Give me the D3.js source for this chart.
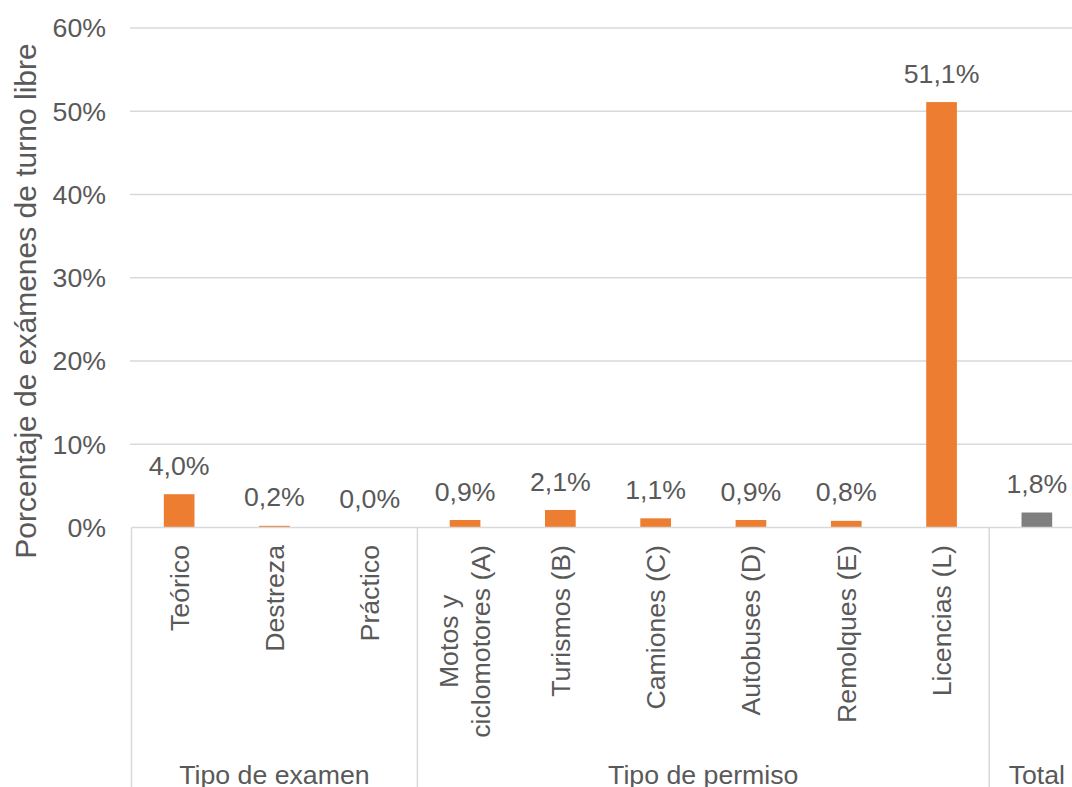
<!DOCTYPE html>
<html>
<head>
<meta charset="utf-8">
<script src="https://cdn.jsdelivr.net/npm/d3@7/dist/d3.min.js"></script>
<style>
  html, body { margin: 0; padding: 0; background: #fff; }
  svg { display: block; font-family: "Liberation Sans", Arial, sans-serif; }
</style>
</head>
<body>
<svg id="chart" width="1072" height="787"></svg>
<script>
// Categories (a "\n" marks a wrapped label line)
const categories = [
  "Teórico", "Destreza", "Práctico",
  "Motos y\nciclomotores (A)", "Turismos (B)", "Camiones (C)",
  "Autobuses (D)", "Remolques (E)", "Licencias (L)",
  "Total"
];
// Share of free-turn exams, in percent
const values = [4.0, 0.2, 0.0, 0.9, 2.1, 1.1, 0.9, 0.8, 51.1, 1.8];
const valueLabels = ["4,0%", "0,2%", "0,0%", "0,9%", "2,1%", "1,1%", "0,9%", "0,8%", "51,1%", "1,8%"];
// Outer grouping of the category axis
const groupNames = ["Tipo de examen", "Tipo de permiso", "Total"];
const groupSizes = [3, 6, 1];
// Y axis ticks
const yTicks = [0, 10, 20, 30, 40, 50, 60];
const yTickLabels = ["0%", "10%", "20%", "30%", "40%", "50%", "60%"];
const yTitle = "Porcentaje de exámenes de turno libre";

const W = 1072, H = 787;
const plotLeft = 131.5, plotRight = 1084.5, plotTop = 28, plotBottom = 527.5;
const textColor = "#595959";
const gridColor = "#d9d9d9";
const fs = 26.7;

const svg = d3.select("#chart");

const x = d3.scaleBand().domain(d3.range(categories.length)).range([plotLeft, plotRight]).padding(0);
const y = d3.scaleLinear().domain([0, 60]).range([plotBottom, plotTop]);
const barW = x.step() * 0.322;

// Horizontal gridlines
svg.append("g").selectAll("line").data(yTicks.filter(t => t > 0)).join("line")
  .attr("x1", plotLeft - 1.5).attr("x2", plotRight)
  .attr("y1", d => y(d)).attr("y2", d => y(d))
  .attr("stroke", gridColor).attr("stroke-width", 1.5);

// Y tick labels
svg.append("g").selectAll("text").data(yTicks).join("text")
  .attr("x", 106).attr("y", d => y(d)).attr("dy", "0.35em")
  .attr("text-anchor", "end").attr("fill", textColor)
  .style("font-size", fs + "px")
  .text((d, i) => yTickLabels[i]);

// Y axis title
svg.append("text")
  .attr("transform", "translate(36,301) rotate(-90)")
  .attr("text-anchor", "middle").attr("fill", textColor)
  .style("font-size", "30px")
  .text(yTitle);

// Bars
const lastIdx = categories.length - 1;
svg.append("g").selectAll("rect").data(values).join("rect")
  .attr("x", (d, i) => x(i) + x.bandwidth() / 2 - barW / 2)
  .attr("width", barW)
  .attr("y", d => y(d))
  .attr("height", d => y(0) - y(d))
  .attr("fill", (d, i) => i === lastIdx ? "#7f7f7f" : "#ed7d31");

// Value labels
svg.append("g").selectAll("text").data(values).join("text")
  .attr("x", (d, i) => x(i) + x.bandwidth() / 2)
  .attr("y", d => y(d) - 19.5)
  .attr("text-anchor", "middle").attr("fill", textColor)
  .style("font-size", fs + "px")
  .text((d, i) => valueLabels[i]);

// Category axis baseline
svg.append("line")
  .attr("x1", plotLeft).attr("x2", plotRight)
  .attr("y1", plotBottom).attr("y2", plotBottom)
  .attr("stroke", gridColor).attr("stroke-width", 1.5);

// Group separators spanning both label levels
const bounds = [0];
groupSizes.forEach(n => bounds.push(bounds[bounds.length - 1] + n));
svg.append("g").selectAll("line").data(bounds.slice(0, -1)).join("line")
  .attr("x1", d => x(d)).attr("x2", d => x(d))
  .attr("y1", plotBottom).attr("y2", H)
  .attr("stroke", gridColor).attr("stroke-width", 1.5);

// Rotated category labels (lines centred on each other, block ending near the axis)
const catTop = 545;
categories.forEach((c, i) => {
  if (i === lastIdx) return;
  const lines = c.split("\n");
  const g = svg.append("g")
    .attr("transform", `translate(${x(i) + x.bandwidth() / 2},${catTop}) rotate(-90)`);
  const n = lines.length;
  const texts = lines.map((ln, k) => g.append("text")
    .attr("y", (0.35 + (k - (n - 1) / 2) * 1.2) + "em")
    .attr("fill", textColor)
    .style("font-size", fs + "px")
    .text(ln));
  const lens = texts.map(t => t.node().getComputedTextLength());
  const maxLen = d3.max(lens);
  texts.forEach(t => t.attr("text-anchor", "middle").attr("x", -maxLen / 2));
});

// Group labels
svg.append("g").selectAll("text").data(groupNames).join("text")
  .attr("x", (d, i) => (x(bounds[i]) + (bounds[i + 1] < categories.length ? x(bounds[i + 1]) : plotRight)) / 2)
  .attr("y", 784)
  .attr("text-anchor", "middle").attr("fill", textColor)
  .style("font-size", fs + "px")
  .text(d => d);
</script>
</body>
</html>
